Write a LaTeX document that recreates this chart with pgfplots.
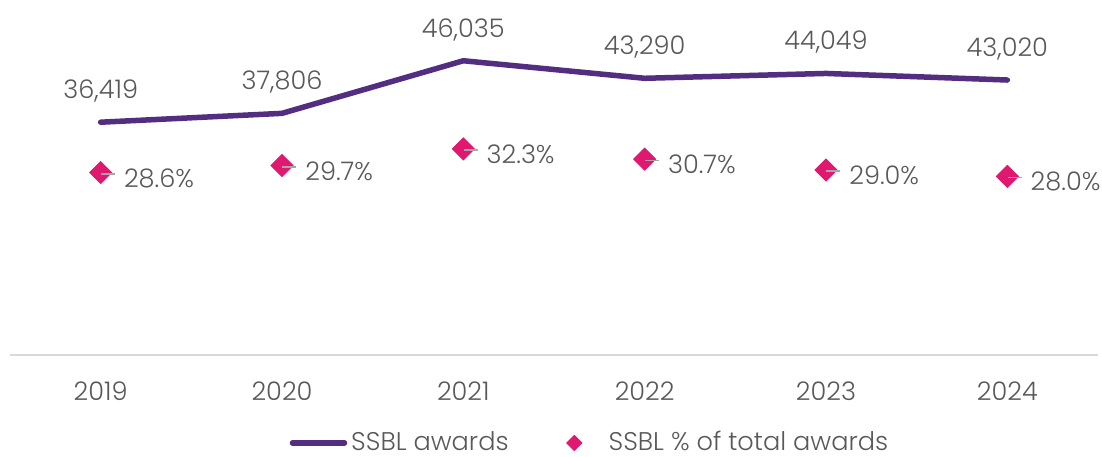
\documentclass[border=0pt,12pt]{standalone}
\usepackage{pgfplots}
\pgfplotsset{compat=1.18}
\usepackage{fontspec}
\setmainfont{Poppins}[UprightFont=* Light]

\definecolor{ssblpurple}{HTML}{522D80}
\definecolor{ssblpink}{HTML}{E0186F}
\definecolor{txtgray}{HTML}{595959}
\definecolor{leadgray}{HTML}{A6A6A6}
\definecolor{axgray}{HTML}{D9D9D9}

\pgfplotsset{
  basebox/.style={
    at={(0,0)}, anchor=south west,
    scale only axis, width=544pt, height=174.5pt,
    xmin=-0.5, xmax=5.5, clip=false,
  },
  linelegend/.style={
    legend image code/.code={\draw[##1] (0pt,0pt) -- (26pt,0pt);}
  },
  marklegend/.style={
    legend image code/.code={\draw[##1, mark size=2.7pt] plot coordinates {(0pt,0pt)}; \path (15pt,0pt);}
  },
}

\begin{document}
\fontsize{12.8}{15}\selectfont
\begin{tikzpicture}
% SSBL awards (left scale)
\begin{axis}[basebox,
  ymin=0, ymax=54600,
  axis x line*=bottom, hide y axis,
  x axis line style={axgray, line width=1pt},
  xtick={0,...,5}, xticklabels={2019,2020,2021,2022,2023,2024},
  major tick length=0pt,
  xticklabel style={text=txtgray, yshift=-9pt},
]
\addplot[ssblpurple, line width=2.75pt, line cap=round, line join=round,
  nodes near coords,
  every node near coord/.append style={text=txtgray, anchor=center, yshift=15.5pt,
    /pgf/number format/assume math mode=true}]
  coordinates {(0,36419) (1,37806) (2,46035) (3,43290) (4,44049) (5,43020)};
\end{axis}
% share of total awards (right scale, hidden)
\begin{axis}[basebox,
  ymin=0, ymax=54.7, axis lines=none,
  legend columns=2,
  legend style={draw=none, fill=none, text=txtgray, at={(0.534,-0.252)}, anchor=center,
    inner sep=0pt, nodes={inner ysep=0.5pt},
    /tikz/every even column/.append style={column sep=27pt}},
  legend cell align=left,
]
\addlegendimage{ssblpurple, line width=2.75pt, line cap=round, linelegend}
\addlegendentry{SSBL awards}
\addplot[only marks, mark=square*, mark size=3.9pt,
  mark options={rotate=45, fill=ssblpink, draw=ssblpink},
  marklegend,
  nodes near coords={\textcolor{leadgray}{\rule[6.3pt]{7pt}{0.8pt}}\hspace{4.5pt}\pgfmathprintnumber[fixed,fixed zerofill,precision=1,assume math mode=true]{\pgfplotspointmeta}\%},
  every node near coord/.append style={anchor=base west, inner sep=0pt, yshift=-7.3pt, text=txtgray}]
  coordinates {(0,28.6) (1,29.7) (2,32.3) (3,30.7) (4,29.0) (5,28.0)};
\addlegendentry{SSBL \% of total awards}
\end{axis}
\pgfresetboundingbox
\useasboundingbox (-5pt,-50.5pt) rectangle (546pt,177.5pt);
\end{tikzpicture}
\end{document}
